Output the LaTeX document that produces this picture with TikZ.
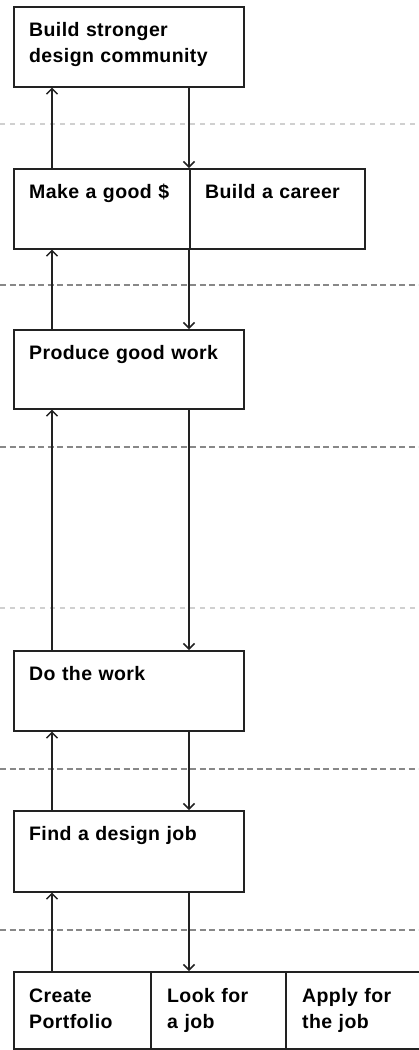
\documentclass[tikz,border=0pt]{standalone}
\usepackage{fontspec}
\usetikzlibrary{arrows.meta}
\newfontfamily\labfont[LetterSpace=2]{Liberation Sans}
\definecolor{ink}{HTML}{222222}
\definecolor{guideA}{HTML}{D0D0D0}
\definecolor{guideB}{HTML}{888888}
\begin{document}
\begin{tikzpicture}[x=1pt,y=-1pt,
  box/.style={draw=ink, line width=1.6pt, inner sep=0pt, anchor=north west},
  lbl/.style={anchor=base west, inner sep=0pt, text width=220pt, align=left,
    font=\labfont\bfseries\fontsize{19.5}{25.5}\selectfont, text=black},
  arr/.style={draw=ink, line width=1.5pt,
    -{Straight Barb[length=5.5pt,width=11pt,line width=1.5pt]}},
  faint/.style={guideA, line width=1.1pt, dash pattern=on 5pt off 5pt},
  firm/.style={guideB, line width=1.1pt, dash pattern=on 6pt off 3.5pt}]
\useasboundingbox (0,0) rectangle (418,1050);

% level separators
\draw[faint] (0,124) -- (418,124);
\draw[firm]  (0,285) -- (418,285);
\draw[firm]  (0,447) -- (418,447);
\draw[faint] (0,608) -- (418,608);
\draw[firm]  (0,769) -- (418,769);
\draw[firm]  (0,930) -- (418,930);

% columns used by the up / down connectors
\coordinate (upx) at (52,0);
\coordinate (dnx) at (189,0);

% boxes
\node[box, minimum width=230pt, minimum height=80pt] (goal) at (13,6) {};
\node[box, minimum width=176pt, minimum height=80pt] (mk) at (13,168) {};
\node[box, minimum width=175pt, minimum height=80pt] (career) at (189,168) {};
\node[box, minimum width=230pt, minimum height=79pt] (produce) at (13,329) {};
\node[box, minimum width=230pt, minimum height=80pt] (work) at (13,650) {};
\node[box, minimum width=230pt, minimum height=81pt] (find) at (13,810) {};
\node[box, minimum width=137pt, minimum height=77pt] (portfolio) at (13,971) {};
\node[box, minimum width=135pt, minimum height=77pt] (look) at (150,971) {};
\node[box, minimum width=140pt, minimum height=77pt] (apply) at (285,971) {};

% labels
\node[lbl] (goal-t) at ([shift={(16,30.5)}]goal.north west) {Build stronger\\design community};
\node[lbl] (mk-t) at ([shift={(16,30)}]mk.north west) {Make a good \$};
\node[lbl] (career-t) at ([shift={(16,30)}]career.north west) {Build a career};
\node[lbl] (produce-t) at ([shift={(16,30.5)}]produce.north west) {Produce good work};
\node[lbl] (work-t) at ([shift={(16,30)}]work.north west) {Do the work};
\node[lbl] (find-t) at ([shift={(16,30)}]find.north west) {Find a design job};
\node[lbl] (portfolio-t) at ([shift={(16,31.5)}]portfolio.north west) {Create\\Portfolio};
\node[lbl] (look-t) at ([shift={(17,31.5)}]look.north west) {Look for\\a job};
\node[lbl] (apply-t) at ([shift={(17,31.5)}]apply.north west) {Apply for\\the job};

% connectors
\draw[arr] (upx |- mk.north) -- (upx |- goal.south);
\draw[arr] (dnx |- goal.south) -- (dnx |- career.north);
\draw[arr] (upx |- produce.north) -- (upx |- mk.south);
\draw[arr] (dnx |- career.south) -- (dnx |- produce.north);
\draw[arr] (upx |- work.north) -- (upx |- produce.south);
\draw[arr] (dnx |- produce.south) -- (dnx |- work.north);
\draw[arr] (upx |- find.north) -- (upx |- work.south);
\draw[arr] (dnx |- work.south) -- (dnx |- find.north);
\draw[arr] (upx |- portfolio.north) -- (upx |- find.south);
\draw[arr] (dnx |- find.south) -- (dnx |- look.north);
\end{tikzpicture}
\end{document}
